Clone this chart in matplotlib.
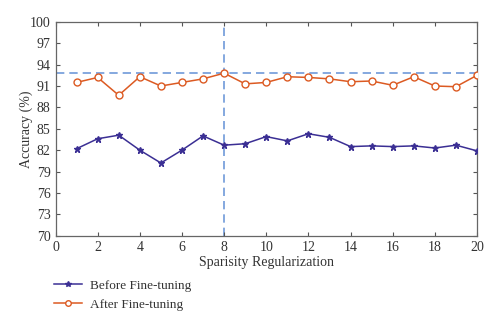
import matplotlib
matplotlib.use("Agg")
import matplotlib.pyplot as plt
from matplotlib.lines import Line2D

reg = list(range(1, 21))
before_ft = [82.2, 83.6, 84.1, 82.0, 80.2, 82.0, 84.0, 82.7, 82.9, 83.9,
             83.3, 84.3, 83.8, 82.5, 82.6, 82.5, 82.6, 82.3, 82.7, 81.9]
after_ft = [91.5, 92.2, 89.7, 92.3, 91.0, 91.5, 92.0, 92.8, 91.3, 91.5,
            92.3, 92.2, 92.0, 91.6, 91.7, 91.1, 92.3, 91.0, 90.9, 92.5]
best_reg = 8
best_acc = 92.8
x_ticks = list(range(0, 21, 2))
y_ticks = list(range(70, 101, 3))

plt.rcParams['font.family'] = ['Liberation Serif', 'DejaVu Serif']

blue = '#3b2f94'
orange = '#dc5a22'
guide = '#6f9ad9'
grey = '#555555'

fig = plt.figure(figsize=(5.0, 3.26), dpi=100)
ax = fig.add_axes([0.111, 0.277, 0.843, 0.656])

ax.axhline(best_acc, color=guide, ls=(0, (5, 3)), lw=1.2, zorder=1)
ax.axvline(best_reg, color=guide, ls=(0, (5, 3)), lw=1.2, zorder=1)

ax.plot(reg, before_ft, color=blue, lw=1.1, marker='*', ms=5,
        mfc=blue, mec=blue, zorder=3)
ax.plot(reg, after_ft, color=orange, lw=1.1, marker='o', ms=5,
        mfc='white', mec=orange, mew=1.0, zorder=3)

ax.set_xlim(0, 20)
ax.set_ylim(70, 100)
ax.set_xticks(x_ticks)
ax.set_yticks(y_ticks)
ax.tick_params(direction='in', length=3, width=0.8, colors=grey,
               labelsize=10, labelcolor='#333333', top=True, right=True)
for s in ax.spines.values():
    s.set_color('#666666')
    s.set_linewidth(0.9)

ax.set_xlabel('Sparisity Regularization', fontsize=10, color='#333333', labelpad=2)
ax.set_ylabel('Accuracy (%)', fontsize=10, color='#333333', labelpad=-2)

handles = [
    Line2D([], [], color=blue, lw=1.1, marker='*', ms=4, mfc=blue, mec=blue),
    Line2D([], [], color=orange, lw=1.1, marker='o', ms=4, mfc='white', mec=orange),
]
fig.legend(handles, ['Before Fine-tuning', 'After Fine-tuning'],
           loc='upper left', bbox_to_anchor=(0.084, 0.178), frameon=False,
           fontsize=9.5, handlelength=2.1, labelspacing=0.5,
           handletextpad=0.6, labelcolor='#333333')

fig.savefig('out.png', dpi=100)
